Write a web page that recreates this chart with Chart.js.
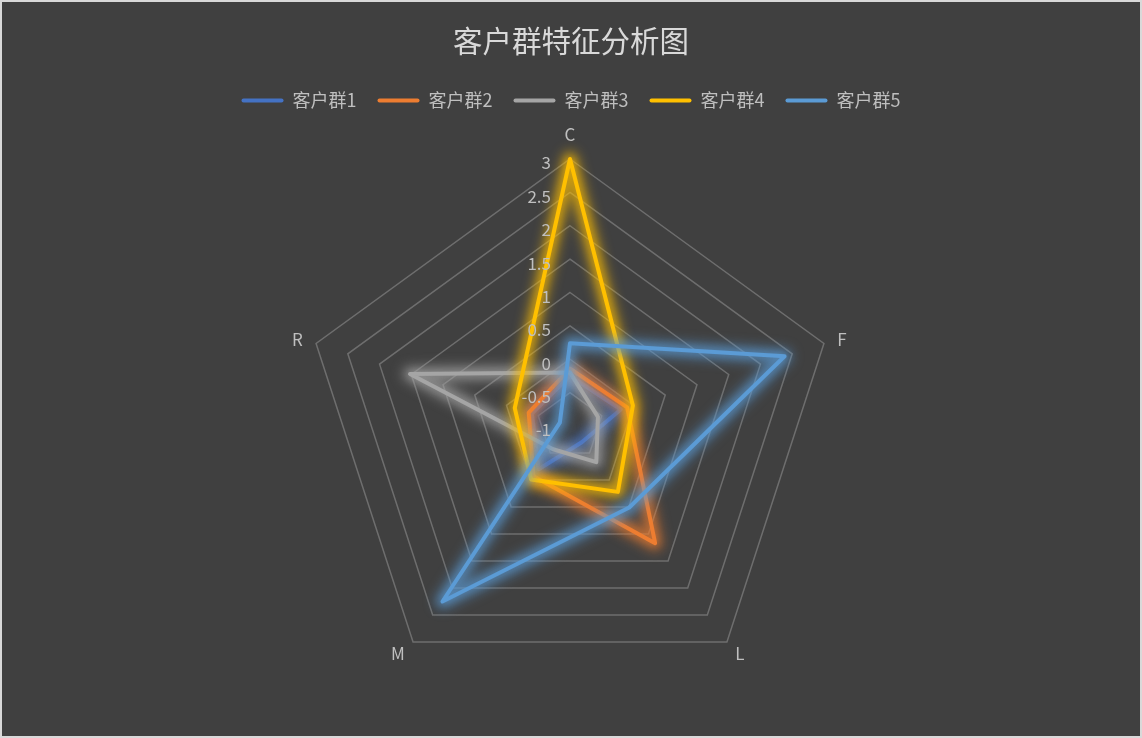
<!DOCTYPE html>
<html>
<head>
<meta charset="utf-8">
<script src="https://cdn.jsdelivr.net/npm/chart.js@4.4.1/dist/chart.umd.min.js"></script>
<style>
html,body{margin:0;padding:0;background:#404040;}
#wrap{position:relative;width:1142px;height:738px;background:#404040;overflow:hidden;}
#wrap canvas{position:absolute;left:0;top:0;}
#frame{position:absolute;left:0;top:0;width:1142px;height:738px;box-sizing:border-box;border:2px solid #d9d9d9;pointer-events:none;}
</style>
</head>
<body>
<div id="wrap"><canvas id="c" width="1142" height="738"></canvas><div id="frame"></div></div>
<script>
// ---- data ----
const categories = ['C', 'F', 'L', 'M', 'R'];
const seriesNames = ['客户群1', '客户群2', '客户群3', '客户群4', '客户群5'];
const group1 = [-0.25, -0.2, -0.7, -0.2, -0.4];
const group2 = [-0.14, -0.1, 1.17, -0.07, -0.35];
const group3 = [-0.2, -0.56, -0.33, -0.57, 1.52];
const group4 = [3.0, -0.01, 0.22, -0.01, -0.13];
const group5 = [0.24, 2.38, 0.51, 2.25, -0.84];
const axisMin = -1;
const axisMax = 3;
const axisStep = 0.5;
const chartTitle = '客户群特征分析图';

// ---- styles ----
const seriesValues = [group1, group2, group3, group4, group5];
const colors = ['#4472C4', '#ED7D31', '#A5A5A5', '#FFC000', '#5B9BD5'];
const FONT = '"Noto Sans CJK SC", "Noto Sans", sans-serif';
const CENTER_X = 570, CENTER_Y = 426, RADIUS = 267;

function rgba(hex, a) {
  const n = parseInt(hex.slice(1), 16);
  return `rgba(${(n >> 16) & 255},${(n >> 8) & 255},${n & 255},${a})`;
}

const glow = {
  id: 'glow',
  beforeDatasetDraw(chart, args) {
    const ctx = chart.ctx;
    const el = chart.getDatasetMeta(args.index).dataset;
    const orig = el.options;
    // soft wide glow pass drawn with the library's own line element
    el.options = Object.assign({}, orig, { borderWidth: 16 });
    ctx.save();
    ctx.filter = 'blur(6px)';
    ctx.globalAlpha = 0.55;
    el.draw(ctx, chart.chartArea);
    ctx.restore();
    el.options = orig;
    ctx.save();
    ctx.shadowColor = rgba(chart.data.datasets[args.index].borderColor, 0.8);
    ctx.shadowBlur = 8;
  },
  afterDatasetDraw(chart) {
    chart.ctx.restore();
  }
};

const tickLabels = {
  id: 'tickLabels',
  afterDatasetsDraw(chart) {
    const s = chart.scales.r;
    const ctx = chart.ctx;
    ctx.save();
    ctx.font = '17px ' + FONT;
    ctx.fillStyle = '#bfbfbf';
    ctx.textAlign = 'right';
    ctx.textBaseline = 'middle';
    s.ticks.forEach(t => {
      const d = s.getDistanceFromCenterForValue(t.value);
      ctx.fillText(t.label, s.xCenter - 19, s.yCenter - d + 4);
    });
    ctx.restore();
  }
};

new Chart(document.getElementById('c'), {
  type: 'radar',
  data: {
    labels: categories,
    datasets: seriesValues.map((vals, i) => ({
      label: seriesNames[i],
      data: vals,
      borderColor: colors[i],
      backgroundColor: colors[i],
      borderWidth: 4,
      fill: false,
      pointRadius: 0,
      pointHoverRadius: 0,
      borderJoinStyle: 'round',
      tension: 0,
      order: seriesValues.length - i
    }))
  },
  options: {
    responsive: false,
    animation: false,
    devicePixelRatio: 1,
    plugins: {
      title: {
        display: true,
        text: chartTitle,
        color: '#d9d9d9',
        font: { family: FONT, size: 29.5, weight: 'normal' },
        padding: { top: 23, bottom: 12 }
      },
      legend: {
        position: 'top',
        labels: {
          color: '#bfbfbf',
          font: { family: FONT, size: 18 },
          boxWidth: 42,
          boxHeight: 4,
          padding: 21,
          useBorderRadius: true,
          borderRadius: 2,
          sort: (a, b) => a.datasetIndex - b.datasetIndex,
          generateLabels(chart) {
            const items = Chart.defaults.plugins.legend.labels.generateLabels(chart);
            items.forEach(it => {
              it.fillStyle = colors[it.datasetIndex];
              it.strokeStyle = colors[it.datasetIndex];
              it.lineWidth = 0;
            });
            return items;
          }
        }
      },
      tooltip: { enabled: false }
    },
    scales: {
      r: {
        min: axisMin,
        max: axisMax,
        ticks: { stepSize: axisStep, display: false, callback: v => String(v) },
        grid: { color: '#6e6e6e', lineWidth: 1.5, circular: false },
        angleLines: { display: false },
        pointLabels: { color: '#bfbfbf', font: { family: FONT, size: 17 }, padding: 14 },
        afterFit(scale) {
          const ox = scale.xCenter, oy = scale.yCenter, oR = scale.drawingArea;
          scale.xCenter = CENTER_X;
          scale.yCenter = CENTER_Y;
          scale.drawingArea = RADIUS;
          (scale._pointLabelItems || []).forEach((it, i) => {
            const a = scale.getIndexAngle(i) - Math.PI / 2;
            let dx = (CENTER_X - ox) + (RADIUS - oR) * Math.cos(a);
            let dy = (CENTER_Y - oy) + (RADIUS - oR) * Math.sin(a);
            const h = it.bottom - it.top;
            const deg = (scale.getIndexAngle(i) * 180 / Math.PI) % 360;
            if (deg > 10 && deg < 90) dy += h / 2;
            else if (deg > 270 && deg < 350) dy += h / 2;
            else if (deg > 90 && deg < 270) dy -= h / 2;
            it.x += dx; it.y += dy;
            it.left += dx; it.right += dx; it.top += dy; it.bottom += dy;
          });
        }
      }
    }
  },
  plugins: [glow, tickLabels]
});
</script>
</body>
</html>
